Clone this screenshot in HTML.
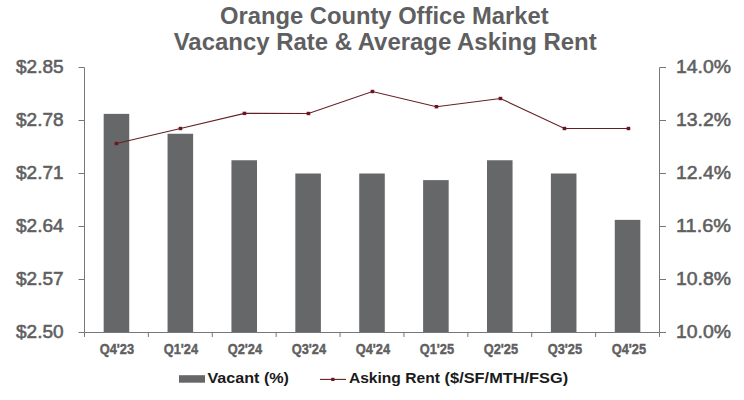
<!DOCTYPE html>
<html><head><meta charset="utf-8"><style>
html,body{margin:0;padding:0;background:#fff;}
body{width:744px;height:400px;overflow:hidden;}
svg{display:block;}
text{font-family:"Liberation Sans",sans-serif;font-weight:bold;}
.title{font-size:23px;fill:#5f5f61;}
.ax{font-size:17.6px;fill:#5f5f61;font-weight:normal;stroke:#5f5f61;stroke-width:0.55px;}
.ax2{font-size:18px;fill:#5f5f61;font-weight:normal;stroke:#5f5f61;stroke-width:0.55px;}
.cat{font-size:15.3px;fill:#5f5f61;stroke:#5f5f61;stroke-width:0.45px;}
.leg{font-size:15.5px;fill:#1a1a1a;}
</style></head><body>
<svg width="744" height="400" viewBox="0 0 744 400">
<rect x="103.67" y="113.87" width="25.56" height="218.63" fill="#666769"/>
<rect x="167.56" y="133.75" width="25.56" height="198.75" fill="#666769"/>
<rect x="231.44" y="160.25" width="25.56" height="172.25" fill="#666769"/>
<rect x="295.33" y="173.50" width="25.56" height="159.00" fill="#666769"/>
<rect x="359.22" y="173.50" width="25.56" height="159.00" fill="#666769"/>
<rect x="423.11" y="180.12" width="25.56" height="152.38" fill="#666769"/>
<rect x="487.00" y="160.25" width="25.56" height="172.25" fill="#666769"/>
<rect x="550.89" y="173.50" width="25.56" height="159.00" fill="#666769"/>
<rect x="614.78" y="219.88" width="25.56" height="112.62" fill="#666769"/>
<path d="M84.5 67.5V332.5H659.5V67.5" fill="none" stroke="#777777" stroke-width="1"/>
<path d="M78.5 67.5H84.5M659.5 67.5H666M78.5 120.5H84.5M659.5 120.5H666M78.5 173.5H84.5M659.5 173.5H666M78.5 226.5H84.5M659.5 226.5H666M78.5 279.5H84.5M659.5 279.5H666M78.5 332.5H84.5M659.5 332.5H666M84.50 332.5V337M148.39 332.5V337M212.28 332.5V337M276.17 332.5V337M340.06 332.5V337M403.94 332.5V337M467.83 332.5V337M531.72 332.5V337M595.61 332.5V337M659.50 332.5V337" fill="none" stroke="#777777" stroke-width="1"/>
<polyline points="116.45,143.50 180.45,128.50 244.45,113.40 308.45,113.50 372.45,91.50 436.45,106.70 500.45,98.50 564.45,128.50 628.45,128.50" fill="none" stroke="#642024" stroke-width="1.1"/>
<rect x="114.65" y="141.80" width="3.6" height="3.4" fill="#6e1424"/>
<rect x="178.65" y="126.80" width="3.6" height="3.4" fill="#6e1424"/>
<rect x="242.65" y="111.70" width="3.6" height="3.4" fill="#6e1424"/>
<rect x="306.65" y="111.80" width="3.6" height="3.4" fill="#6e1424"/>
<rect x="370.65" y="89.80" width="3.6" height="3.4" fill="#6e1424"/>
<rect x="434.65" y="105.00" width="3.6" height="3.4" fill="#6e1424"/>
<rect x="498.65" y="96.80" width="3.6" height="3.4" fill="#6e1424"/>
<rect x="562.65" y="126.80" width="3.6" height="3.4" fill="#6e1424"/>
<rect x="626.65" y="126.80" width="3.6" height="3.4" fill="#6e1424"/>
<text x="63.6" y="72.80" text-anchor="end" class="ax" textLength="47.6" lengthAdjust="spacingAndGlyphs">$2.85</text>
<text x="63.6" y="125.80" text-anchor="end" class="ax" textLength="47.6" lengthAdjust="spacingAndGlyphs">$2.78</text>
<text x="63.6" y="178.80" text-anchor="end" class="ax" textLength="47.6" lengthAdjust="spacingAndGlyphs">$2.71</text>
<text x="63.6" y="231.80" text-anchor="end" class="ax" textLength="47.6" lengthAdjust="spacingAndGlyphs">$2.64</text>
<text x="63.6" y="284.80" text-anchor="end" class="ax" textLength="47.6" lengthAdjust="spacingAndGlyphs">$2.57</text>
<text x="63.6" y="337.80" text-anchor="end" class="ax" textLength="47.6" lengthAdjust="spacingAndGlyphs">$2.50</text>
<text x="676" y="73.30" class="ax2" textLength="55" lengthAdjust="spacingAndGlyphs">14.0%</text>
<text x="676" y="126.30" class="ax2" textLength="55" lengthAdjust="spacingAndGlyphs">13.2%</text>
<text x="676" y="179.30" class="ax2" textLength="55" lengthAdjust="spacingAndGlyphs">12.4%</text>
<text x="676" y="232.30" class="ax2" textLength="55" lengthAdjust="spacingAndGlyphs">11.6%</text>
<text x="676" y="285.30" class="ax2" textLength="55" lengthAdjust="spacingAndGlyphs">10.8%</text>
<text x="676" y="338.30" class="ax2" textLength="55" lengthAdjust="spacingAndGlyphs">10.0%</text>
<text x="116.90" y="354.3" text-anchor="middle" class="cat" textLength="34.4" lengthAdjust="spacingAndGlyphs">Q4'23</text>
<text x="180.90" y="354.3" text-anchor="middle" class="cat" textLength="34.4" lengthAdjust="spacingAndGlyphs">Q1'24</text>
<text x="244.90" y="354.3" text-anchor="middle" class="cat" textLength="34.4" lengthAdjust="spacingAndGlyphs">Q2'24</text>
<text x="308.90" y="354.3" text-anchor="middle" class="cat" textLength="34.4" lengthAdjust="spacingAndGlyphs">Q3'24</text>
<text x="372.90" y="354.3" text-anchor="middle" class="cat" textLength="34.4" lengthAdjust="spacingAndGlyphs">Q4'24</text>
<text x="436.90" y="354.3" text-anchor="middle" class="cat" textLength="34.4" lengthAdjust="spacingAndGlyphs">Q1'25</text>
<text x="500.90" y="354.3" text-anchor="middle" class="cat" textLength="34.4" lengthAdjust="spacingAndGlyphs">Q2'25</text>
<text x="564.90" y="354.3" text-anchor="middle" class="cat" textLength="34.4" lengthAdjust="spacingAndGlyphs">Q3'25</text>
<text x="628.90" y="354.3" text-anchor="middle" class="cat" textLength="34.4" lengthAdjust="spacingAndGlyphs">Q4'25</text>
<text x="220" y="24.1" class="title" textLength="328.6" lengthAdjust="spacingAndGlyphs">Orange County Office Market</text>
<text x="173.7" y="49.6" class="title" textLength="423" lengthAdjust="spacingAndGlyphs">Vacancy Rate &amp; Average Asking Rent</text>
<rect x="179" y="375.2" width="26" height="7.5" fill="#666769"/>
<text x="207.4" y="383.4" class="leg" textLength="81.6" lengthAdjust="spacingAndGlyphs">Vacant (%)</text>
<path d="M320 379.4H346" stroke="#642024" stroke-width="1.1"/>
<rect x="331.2" y="377.8" width="3.3" height="3.2" fill="#6e1424"/>
<text x="348.9" y="383.4" class="leg" textLength="91" lengthAdjust="spacingAndGlyphs">Asking Rent</text>
<text x="444.6" y="383.4" class="leg" textLength="123.6" lengthAdjust="spacingAndGlyphs">($/SF/MTH/FSG)</text>
</svg>
</body></html>
